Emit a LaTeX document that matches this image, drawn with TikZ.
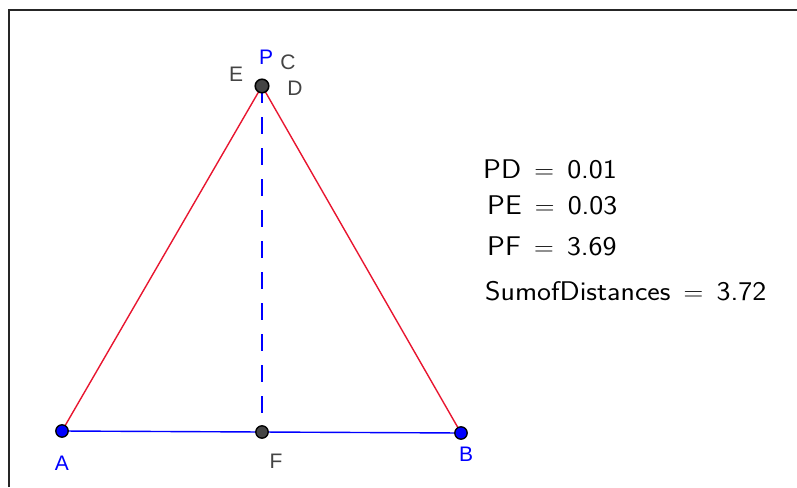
\documentclass[tikz,border=0pt]{standalone}
\usepackage{fontspec}
\newfontfamily\lblfont{Liberation Sans}
\usetikzlibrary{calc}
\definecolor{segred}{RGB}{232,22,48}
\definecolor{ptgray}{RGB}{68,68,68}
\newcommand{\wide}[1]{\scalebox{1.1}[1]{#1}}
\tikzset{
  side/.style={segred,line width=1.4pt},
  base/.style={blue,line width=1.4pt},
  lbl/.style={font=\lblfont\fontsize{21}{21}\selectfont,inner sep=0pt},
  eqn/.style={font=\sffamily\fontsize{27}{27}\selectfont,anchor=base west,inner sep=0pt}
}
\begin{document}
\begin{tikzpicture}[x=1pt,y=-1pt]
  \useasboundingbox (0,0) rectangle (797,487);
  \draw[line width=2pt,black!85] (9,487)--(9,10)--(797,10);
  \coordinate (A) at (62,431);
  \coordinate (B) at (461,433);
  \coordinate (P) at (262,86);
  \coordinate (F) at (262,432);
  \draw[side] (A)--(P)--(B);
  \draw[base] (A)--(B);
  \draw[base,dash pattern=on 17pt off 14pt] (P)--(F);
  \foreach \pt/\col in {A/blue,B/blue,F/ptgray}
    \filldraw[fill=\col,draw=black,line width=1.3pt] (\pt) circle (6.2pt);
  \filldraw[fill=ptgray,draw=black,line width=1.5pt] (P) circle (6.8pt);
  % labels
  \foreach \x/\y/\lab/\col in {266/57/P/blue,288/62/C/ptgray,236/74/E/ptgray,295/88/D/ptgray,62/463/A/blue,276/461/F/ptgray,466/454/B/blue}
    \node[lbl,text=\col] (l\lab) at (\x,\y) {\lab};
  % distances
  \node[eqn] (pd) at (483,178) {\wide{PD\,\;$=$\,\;0.01}};
  \node[eqn] (pe) at (487,214) {\wide{PE\,\;$=$\,\;0.03}};
  \node[eqn] (pf) at (487,255) {\wide{PF\,\;$=$\,\;3.69}};
  \node[eqn] (sum) at (485,300) {\wide{SumofDistances\,\;$=$\,\;3.72}};
\end{tikzpicture}
\end{document}
